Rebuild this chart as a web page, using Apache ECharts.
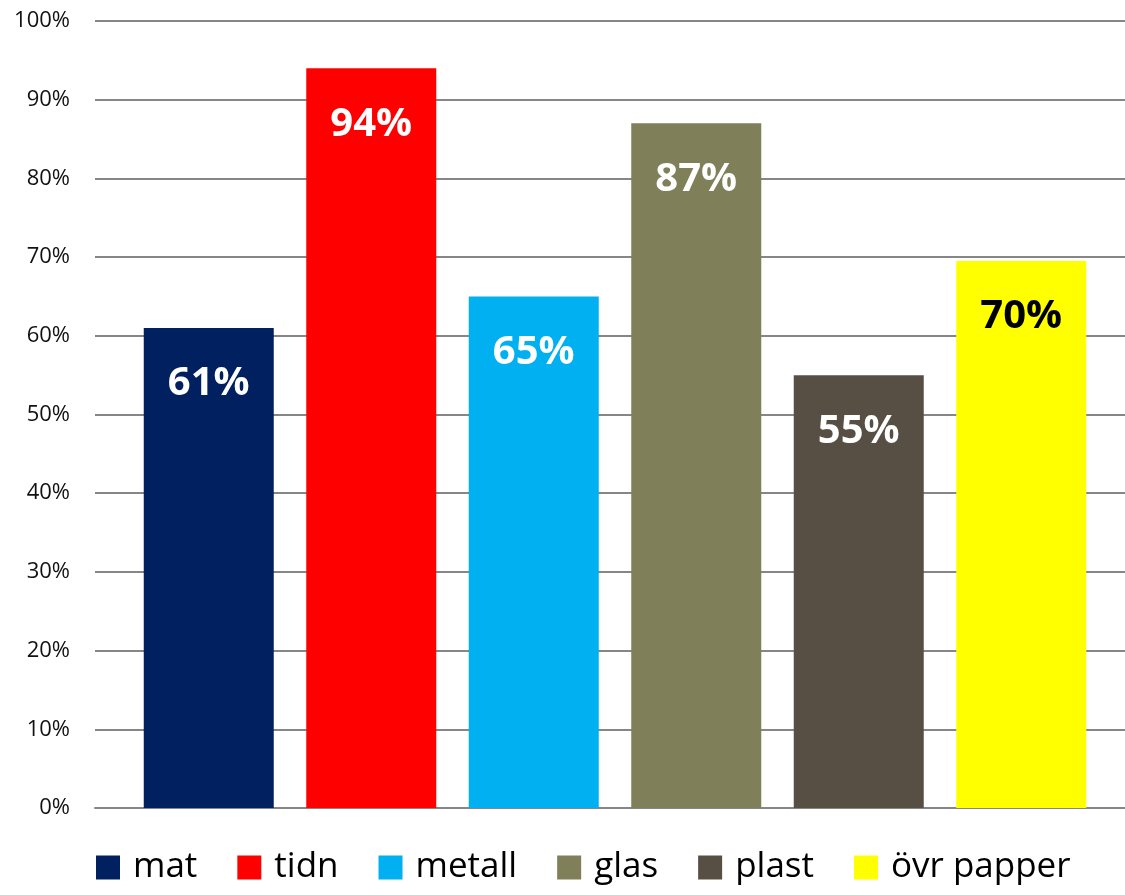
<!DOCTYPE html>
<html>
<head>
<meta charset="utf-8">
<script src="https://cdn.jsdelivr.net/npm/echarts@6/dist/echarts.min.js"></script>
<style>html,body{margin:0;padding:0;background:#fff;}#c{width:1125px;height:895px;}</style>
</head>
<body>
<div id="c"></div>
<script>
const seriesNames = ['mat', 'tidn', 'metall', 'glas', 'plast', 'övr papper'];
const values = [0.61, 0.94, 0.65, 0.87, 0.55, 0.695];
const labelTexts = ['61%', '94%', '65%', '87%', '55%', '70%'];
const colors = ['#002060', '#ff0000', '#00b0f0', '#7f7f59', '#574f44', '#ffff00'];
const labelColors = ['#ffffff', '#ffffff', '#ffffff', '#ffffff', '#ffffff', '#000000'];

const chart = echarts.init(document.getElementById('c'));
chart.setOption({
  animation: false,
  backgroundColor: '#ffffff',
  grid: [
    { left: 95, right: 0, top: 21, bottom: 87 },
    { left: 105, right: 0, top: 21, bottom: 87 }
  ],
  legend: {
    data: seriesNames,
    left: 96,
    top: 850,
    padding: 0,
    itemWidth: 24,
    itemHeight: 24,
    itemGap: 40,
    icon: 'rect',
    textStyle: { fontFamily: 'Open Sans', fontSize: 35, color: '#000', padding: [0, 0, 0, 8] }
  },
  xAxis: [
    {
      gridIndex: 0,
      type: 'category',
      data: [''],
      axisLine: { show: true, lineStyle: { color: '#868686', width: 2 } },
      axisTick: { show: false },
      axisLabel: { show: false }
    },
    {
      gridIndex: 1,
      type: 'category',
      data: [''],
      axisLine: { show: false },
      axisTick: { show: false },
      axisLabel: { show: false }
    }
  ],
  yAxis: [
    {
      gridIndex: 0,
      type: 'value',
      min: 0,
      max: 1,
      interval: 0.1,
      axisLine: { show: false },
      axisTick: { show: false },
      splitLine: { lineStyle: { color: '#868686', width: 2 } },
      axisLabel: {
        margin: 25,
        fontFamily: 'Open Sans',
        fontSize: 22,
        color: '#111',
        formatter: v => Math.round(v * 100) + '%'
      }
    },
    {
      gridIndex: 1,
      type: 'value',
      min: 0,
      max: 1,
      interval: 0.1,
      show: false,
      splitLine: { show: false }
    }
  ],
  series: seriesNames.map((n, i) => ({
    name: n,
    type: 'bar',
    xAxisIndex: 1,
    yAxisIndex: 1,
    data: [values[i]],
    barWidth: 130,
    barGap: '25%',
    itemStyle: { color: colors[i] },
    label: {
      show: true,
      position: 'insideTop',
      distance: 36,
      formatter: () => labelTexts[i],
      fontFamily: 'Open Sans',
      fontWeight: 'bold',
      fontSize: 40,
      color: labelColors[i]
    }
  }))
});
</script>
</body>
</html>
